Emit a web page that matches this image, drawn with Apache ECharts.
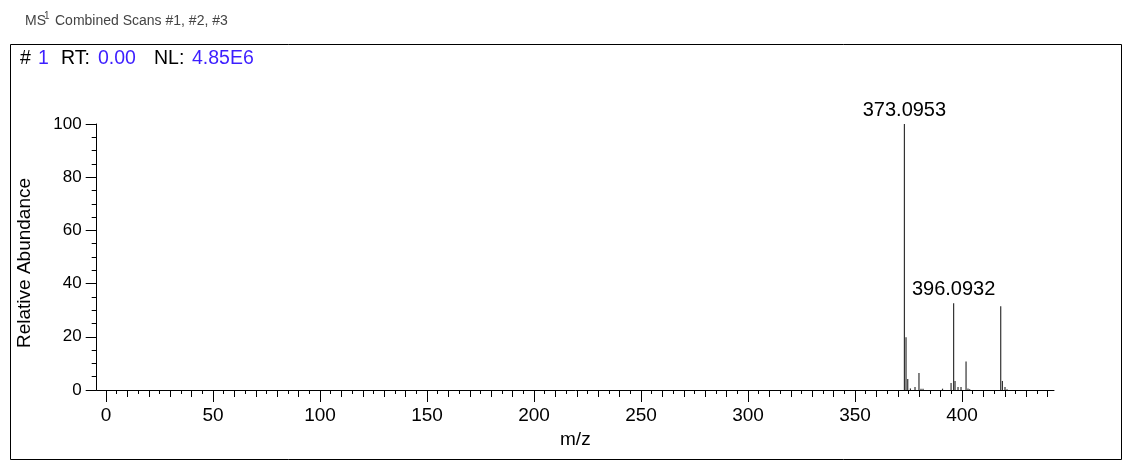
<!DOCTYPE html>
<html>
<head>
<meta charset="utf-8">
<script src="https://cdn.jsdelivr.net/npm/echarts@6/dist/echarts.min.js"></script>
<style>
html,body{margin:0;padding:0;background:#fff;}
#chart{width:1132px;height:466px;}
</style>
</head>
<body>
<div id="chart"></div>
<script>
// ---- data ----
var mzValues = [373.0953, 373.85, 374.65, 375.9, 378.05, 379.9, 380.85, 381.8, 390.9, 394.9, 396.0932, 396.75, 398.15, 399.55, 401.9, 402.8, 403.6, 418.1, 418.9, 420.1, 421.05];
var abundance = [100, 19.8, 4.1, 0.6, 1.1, 6.4, 0.5, 0.5, 0.5, 2.6, 32.6, 3.4, 1.1, 1.1, 10.7, 0.6, 0.3, 31.5, 3.4, 1.1, 0.3];
var peakLabels = ['373.0953', '', '', '', '', '', '', '', '', '', '396.0932', '', '', '', '', '', '', '', '', '', ''];
var xMajorTicks = [0, 50, 100, 150, 200, 250, 300, 350, 400];
var xMediumTicks = [10, 20, 30, 40, 60, 70, 80, 90, 110, 120, 130, 140, 160, 170, 180, 190, 210, 220, 230, 240, 260, 270, 280, 290, 310, 320, 330, 340, 360, 370, 380, 390, 410, 420, 430, 440];
var xMinorTicks = [5, 15, 25, 35, 45, 55, 65, 75, 85, 95, 105, 115, 125, 135, 145, 155, 165, 175, 185, 195, 205, 215, 225, 235, 245, 255, 265, 275, 285, 295, 305, 315, 325, 335, 345, 355, 365, 375, 385, 395, 405, 415, 425, 435];
var titleText = ['MS', '1', 'Combined Scans #1, #2, #3'];
var scanNo = '1', rtValue = '0.00', nlValue = '4.85E6';

var FONT = '"Liberation Sans", Arial, sans-serif';
var BLUE = '#3d1fff';
var XMIN = -4.35, XMAX = 443;

var chart = echarts.init(document.getElementById('chart'), null, {renderer: 'canvas'});

function subAxis(ticks, len) {
  return {
    type: 'value', min: XMIN, max: XMAX, position: 'bottom', gridIndex: 0,
    axisLine: {show: false, onZero: false},
    axisLabel: {show: false},
    splitLine: {show: false},
    axisTick: {show: true, customValues: ticks, length: len, lineStyle: {color: '#000', width: 1}}
  };
}

var option = {
  animation: false,
  backgroundColor: '#fff',
  grid: {left: 96.7, right: 78, top: 124, bottom: 76, containLabel: false},
  xAxis: [
    {
      type: 'value', min: XMIN, max: XMAX, position: 'bottom',
      name: 'm/z', nameLocation: 'middle', nameGap: 40,
      nameTextStyle: {fontFamily: FONT, fontSize: 19, color: '#000'},
      axisLine: {show: true, onZero: false, lineStyle: {color: '#000', width: 1}},
      axisTick: {show: true, customValues: xMajorTicks, length: 12, lineStyle: {color: '#000', width: 1}},
      axisLabel: {show: true, customValues: xMajorTicks, margin: 16, fontFamily: FONT, fontSize: 19, color: '#000'},
      splitLine: {show: false}
    },
    subAxis(xMediumTicks, 7),
    subAxis(xMinorTicks, 4)
  ],
  yAxis: {
    type: 'value', min: 0, max: 100, interval: 20,
    name: 'Relative Abundance', nameLocation: 'middle', nameGap: 62,
    nameTextStyle: {fontFamily: FONT, fontSize: 19, color: '#000', padding: [0, 12, 0, 0]},
    axisLine: {show: true, onZero: false, lineStyle: {color: '#000', width: 1}},
    axisTick: {show: true, length: 11, lineStyle: {color: '#000', width: 1}},
    minorTick: {show: true, splitNumber: 4, length: 5, lineStyle: {color: '#000', width: 1}},
    axisLabel: {margin: 15, fontFamily: FONT, fontSize: 17, color: '#000'},
    splitLine: {show: false},
    minorSplitLine: {show: false}
  },
  graphic: [
    {type: 'rect', shape: {x: 10.5, y: 44.5, width: 1111, height: 415}, style: {fill: 'none', stroke: '#000', lineWidth: 1}, silent: true, z: 0},
    {type: 'text', x: 25, y: 21, style: {text: titleText[0], fontFamily: FONT, fontSize: 14, fill: '#444', verticalAlign: 'middle'}},
    {type: 'text', x: 44, y: 16, style: {text: titleText[1], fontFamily: FONT, fontSize: 10, fill: '#444', verticalAlign: 'middle'}},
    {type: 'text', x: 55, y: 21, style: {text: titleText[2], fontFamily: FONT, fontSize: 14, fill: '#444', verticalAlign: 'middle'}},
    {type: 'text', x: 20, y: 59, style: {text: '#', fontFamily: FONT, fontSize: 19.5, fill: '#000', verticalAlign: 'middle'}},
    {type: 'text', x: 38, y: 59, style: {text: scanNo, fontFamily: FONT, fontSize: 19.5, fill: BLUE, verticalAlign: 'middle'}},
    {type: 'text', x: 61, y: 59, style: {text: 'RT:', fontFamily: FONT, fontSize: 19.5, fill: '#000', verticalAlign: 'middle'}},
    {type: 'text', x: 98, y: 59, style: {text: rtValue, fontFamily: FONT, fontSize: 19.5, fill: BLUE, verticalAlign: 'middle'}},
    {type: 'text', x: 154, y: 59, style: {text: 'NL:', fontFamily: FONT, fontSize: 19.5, fill: '#000', verticalAlign: 'middle'}},
    {type: 'text', x: 192, y: 59, style: {text: nlValue, fontFamily: FONT, fontSize: 19.5, fill: BLUE, verticalAlign: 'middle'}}
  ],
  series: [{
    type: 'custom',
    xAxisIndex: 0, yAxisIndex: 0,
    clip: false,
    data: mzValues.map(function (m, i) { return [m, abundance[i]]; }),
    renderItem: function (params, api) {
      var x = api.value(0), y = api.value(1);
      var p0 = api.coord([x, 0]);
      var p1 = api.coord([x, y]);
      var children = [{
        type: 'line',
        shape: {x1: p0[0], y1: p0[1], x2: p1[0], y2: p1[1]},
        style: {stroke: '#333', lineWidth: 1.2}
      }];
      var lab = peakLabels[params.dataIndex];
      if (lab) {
        children.push({
          type: 'text', x: p1[0], y: p1[1] - 4,
          style: {text: lab, fontFamily: FONT, fontSize: 20, fill: '#000', align: 'center', verticalAlign: 'bottom'}
        });
      }
      return {type: 'group', children: children};
    }
  }]
};
chart.setOption(option);
</script>
</body>
</html>
